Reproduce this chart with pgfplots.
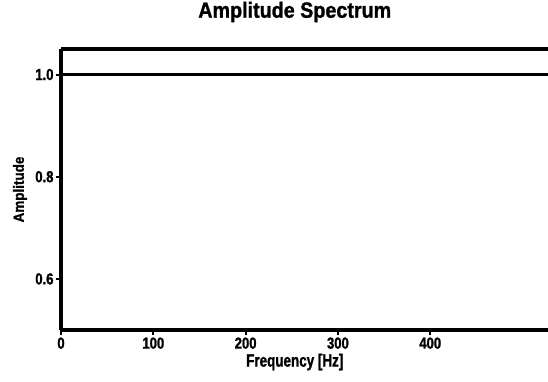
\documentclass[border=0pt]{standalone}
\usepackage{pgfplots}
\pgfplotsset{compat=1.18}
\usepackage{fontspec}
\setmainfont{Liberation Sans}
\newfontfamily\cfont{Liberation Sans}[FakeStretch=0.82, FakeBold=1.2]
\newfontfamily\xfont{Liberation Sans}[FakeStretch=0.75, FakeBold=1.2]
\newfontfamily\tfont{Liberation Sans}[FakeStretch=0.9, FakeBold=1.2]
\begin{document}
\begin{tikzpicture}
\useasboundingbox (0,0) rectangle (548bp,382bp);
\begin{axis}[
  at={(61bp,52bp)}, anchor=south west,
  scale only axis, width=487bp, height=281bp,
  xmin=0, xmax=527.6, ymin=0.5, ymax=1.05,
  axis lines*=left,
  axis line style={line width=3.5bp, black},
  clip=false,
  xtick={0,100,200,300,400},
  ytick={0.6,0.8,1.0},
  tick align=outside,
  major tick length=5bp,
  tick style={line width=2bp, black},
  /pgf/number format/assume math mode=true,
  yticklabel style={/pgf/number format/fixed, /pgf/number format/fixed zerofill, /pgf/number format/precision=1,
    font=\cfont\bfseries\fontsize{16}{16}\selectfont, xshift=1bp},
  xticklabel style={font=\cfont\bfseries\fontsize{16}{16}\selectfont, yshift=1bp},
  title={Amplitude Spectrum},
  title style={font=\tfont\bfseries\fontsize{22}{22}\selectfont, at={(axis description cs:0.48,1)}, anchor=center, yshift=31bp},
  xlabel={Frequency [Hz]},
  xlabel style={font=\xfont\bfseries\fontsize{18}{18}\selectfont, at={(axis description cs:0.48,0)}, anchor=center, yshift=-32bp},
  ylabel={Amplitude},
  ylabel style={font=\tfont\bfseries\fontsize{15}{15}\selectfont, at={(axis description cs:0,0.5)}, anchor=center, yshift=41bp},
]
\draw[line width=3.5bp, black] (rel axis cs:0,1) -- (rel axis cs:1.02,1);
\addplot[black, line width=3bp] coordinates {(0,1.0) (100,1.0) (200,1.0) (300,1.0) (400,1.0) (500,1.0) (527.6,1.0)};
\end{axis}
\end{tikzpicture}
\end{document}
